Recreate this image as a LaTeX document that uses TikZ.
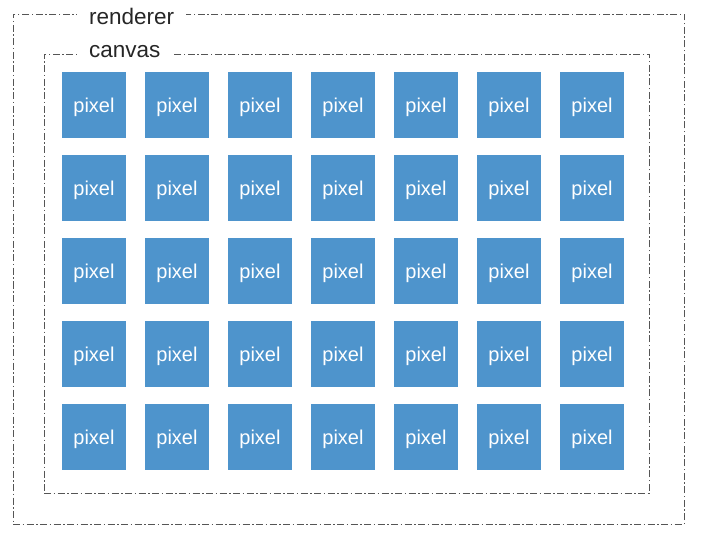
\documentclass[tikz,border=0pt]{standalone}
\usepackage{fontspec}
\setmainfont{Liberation Sans}
\definecolor{pixblue}{RGB}{78,148,204}
\definecolor{framegray}{RGB}{85,85,85}
\begin{document}
\begin{tikzpicture}[x=1pt,y=-1pt,
  frame/.style={draw=framegray,line width=0.9pt,dash pattern=on 7pt off 2.5pt on 1.5pt off 2.5pt},
  framelabel/.style={fill=white,inner xsep=12pt,inner ysep=2pt,font=\fontsize{22.5}{24}\selectfont,text=black!85},
  pixbox/.style={fill=pixblue,minimum width=64pt,minimum height=66pt,inner sep=0pt,text depth=0pt,text=white,font=\fontsize{20}{22}\selectfont}]
\useasboundingbox (0,0) rectangle (704,545);
\node[frame,inner sep=0pt,minimum width=671pt,minimum height=510pt] (renderer) at (348.5,269) {};
\node[frame,inner sep=0pt,minimum width=605pt,minimum height=439pt] (canvas) at (346.5,273.5) {};
\node[framelabel,anchor=west] (rlabel) at (77,16) {renderer};
\node[framelabel,anchor=west] (clabel) at (77,52) {canvas};
\foreach \r in {0,...,4}{
  \foreach \c in {0,...,6}{
    \node[pixbox] (p-\r-\c) at (94+83*\c,105+83*\r) {pixel};
  }
}
\end{tikzpicture}
\end{document}
